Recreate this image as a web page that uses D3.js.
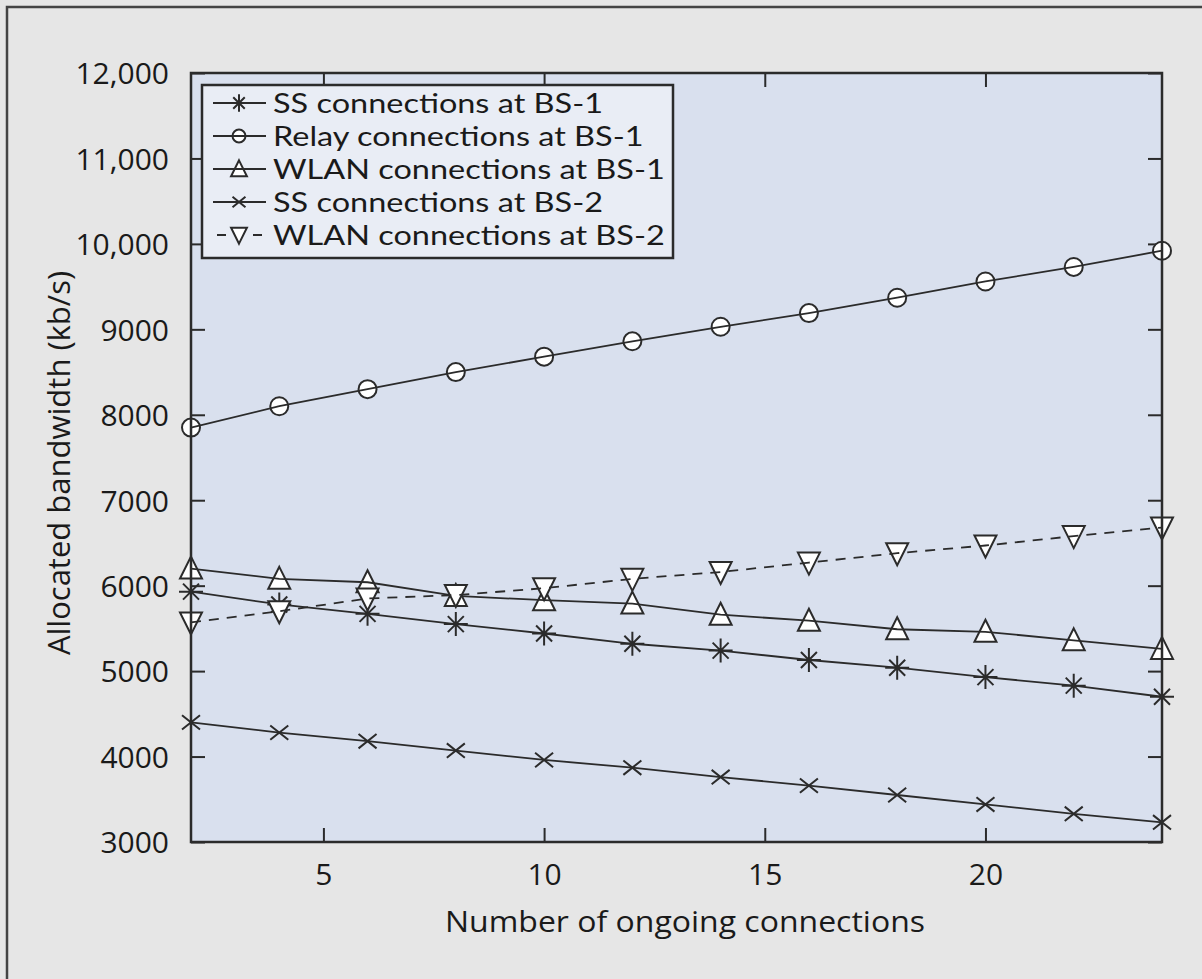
<!DOCTYPE html>
<html>
<head>
<meta charset="utf-8">
<script src="https://cdn.jsdelivr.net/npm/d3@7/dist/d3.min.js"></script>
<style>
  html, body { margin: 0; padding: 0; background: #e6e6e6; }
  svg { display: block; }
  text { font-family: "Open Sans", "Noto Sans", sans-serif; fill: #1a1a1a; }
</style>
</head>
<body>
<svg id="chart" width="1202" height="979"></svg>
<script>
// Number of ongoing connections
const connections = [2, 4, 6, 8, 10, 12, 14, 16, 18, 20, 22, 24];

// Allocated bandwidth (kb/s) per series
const ssBS1    = [5930, 5780, 5670, 5550, 5440, 5320, 5240, 5130, 5040, 4930, 4830, 4700];
const relayBS1 = [7850, 8100, 8300, 8500, 8680, 8860, 9030, 9190, 9370, 9560, 9730, 9920];
const wlanBS1  = [6200, 6080, 6040, 5880, 5830, 5790, 5660, 5590, 5490, 5460, 5360, 5260];
const ssBS2    = [4400, 4280, 4180, 4070, 3960, 3870, 3760, 3660, 3550, 3440, 3330, 3230];
const wlanBS2  = [5570, 5700, 5850, 5890, 5970, 6080, 6160, 6270, 6380, 6470, 6580, 6680];

const seriesNames = [
  "SS connections at BS-1",
  "Relay connections at BS-1",
  "WLAN connections at BS-1",
  "SS connections at BS-2",
  "WLAN connections at BS-2"
];
const seriesMarkers = ["asterisk", "circle", "triangleUp", "cross", "triangleDown"];
const seriesDashed  = [false, false, false, false, true];
const seriesValues  = [ssBS1, relayBS1, wlanBS1, ssBS2, wlanBS2];

const xTicks = [5, 10, 15, 20];
const yTicks = [3000, 4000, 5000, 6000, 7000, 8000, 9000, 10000, 11000, 12000];

const xTitle = "Number of ongoing connections";
const yTitle = "Allocated bandwidth (kb/s)";

// ---- layout ----
const W = 1202, H = 979;
const plot = { left: 191, top: 73, right: 1162, bottom: 842 };
const ink = "#2b2b2b";

const svg = d3.select("#chart");

// outer panel frame (runs off the right and bottom edges)
svg.append("rect")
  .attr("x", 0).attr("y", 0).attr("width", W).attr("height", H)
  .attr("fill", "#e6e6e6");
svg.append("path")
  .attr("d", `M7,${H + 5} L7,7 L${W + 5},7`)
  .attr("fill", "none").attr("stroke", "#444").attr("stroke-width", 2.5);

const x = d3.scaleLinear().domain([2, 24]).range([plot.left, plot.right]);
const y = d3.scaleLinear().domain([3000, 12000]).range([plot.bottom, plot.top]);

// plot background
svg.append("rect")
  .attr("x", plot.left).attr("y", plot.top)
  .attr("width", plot.right - plot.left).attr("height", plot.bottom - plot.top)
  .attr("fill", "#d9e0ee");

const fmt = v => v >= 10000 ? d3.format(",")(v) : String(v);

// axes with inward ticks on all four sides
const tickLen = 14;
const axisBottom = d3.axisBottom(x).tickValues(xTicks).tickSizeInner(-tickLen).tickSizeOuter(0).tickPadding(22).tickFormat(d3.format("d"));
const axisTop    = d3.axisTop(x).tickValues(xTicks).tickSizeInner(-tickLen).tickSizeOuter(0).tickFormat("");
const axisLeft   = d3.axisLeft(y).tickValues(yTicks).tickSizeInner(-tickLen).tickSizeOuter(0).tickPadding(22).tickFormat(fmt);
const axisRight  = d3.axisRight(y).tickValues(yTicks).tickSizeInner(-tickLen).tickSizeOuter(0).tickFormat("");

function styleAxis(g) {
  g.select(".domain").remove();
  g.selectAll(".tick line").attr("stroke", ink).attr("stroke-width", 2);
  g.selectAll(".tick text")
    .style("font-family", "'Open Sans', 'Noto Sans', sans-serif")
    .attr("font-size", 30).attr("fill", "#1a1a1a");
}
svg.append("g").attr("transform", `translate(0,${plot.bottom})`).call(axisBottom).call(styleAxis);
svg.append("g").attr("transform", `translate(0,${plot.top})`).call(axisTop).call(styleAxis);
svg.append("g").attr("transform", `translate(${plot.left},0)`).call(axisLeft).call(styleAxis)
  .selectAll(".tick text").attr("dy", "0.36em");
svg.append("g").attr("transform", `translate(${plot.right},0)`).call(axisRight).call(styleAxis);

// axis titles
svg.append("text")
  .attr("x", 685).attr("y", 932)
  .attr("text-anchor", "middle").attr("font-size", 29)
  .attr("textLength", 480).attr("lengthAdjust", "spacingAndGlyphs")
  .text(xTitle);
svg.append("text")
  .attr("transform", `translate(70,463) rotate(-90)`)
  .attr("text-anchor", "middle").attr("font-size", 31)
  .text(yTitle);

// marker shapes
function marker(g, type, cx, cy, k = 1) {
  const s = ink;
  if (type === "circle") {
    g.append("circle").attr("cx", cx).attr("cy", cy).attr("r", 9 * k)
      .attr("fill", "#fff").attr("stroke", s).attr("stroke-width", 2);
  } else if (type === "triangleUp") {
    g.append("path")
      .attr("d", `M${cx},${cy - 12 * k} L${cx + 11 * k},${cy + 10 * k} L${cx - 11 * k},${cy + 10 * k} Z`)
      .attr("fill", "#fff").attr("stroke", s).attr("stroke-width", 2);
  } else if (type === "triangleDown") {
    g.append("path")
      .attr("d", `M${cx},${cy + 12 * k} L${cx + 11 * k},${cy - 10 * k} L${cx - 11 * k},${cy - 10 * k} Z`)
      .attr("fill", "#fff").attr("stroke", s).attr("stroke-width", 2);
  } else if (type === "cross") {
    const r = 9 * k;
    g.append("path")
      .attr("d", `M${cx - r},${cy - r * 0.8} L${cx + r},${cy + r * 0.8} M${cx - r},${cy + r * 0.8} L${cx + r},${cy - r * 0.8}`)
      .attr("stroke", s).attr("stroke-width", 2).attr("fill", "none");
  } else if (type === "asterisk") {
    const r = 12 * k, d = 8 * k;
    g.append("path")
      .attr("d", `M${cx},${cy - r} L${cx},${cy + r} M${cx - d},${cy - d} L${cx + d},${cy + d} M${cx - d},${cy + d} L${cx + d},${cy - d} M${cx - r},${cy} L${cx + r},${cy}`)
      .attr("stroke", s).attr("stroke-width", 2).attr("fill", "none");
  }
}

const line = d3.line().x((d, i) => x(connections[i])).y(d => y(d));

const plotG = svg.append("g");
seriesValues.forEach((vals, k) => {
  const g = plotG.append("g");
  vals.forEach((v, i) => marker(g, seriesMarkers[k], x(connections[i]), y(v)));
  g.append("path").datum(vals)
    .attr("d", line)
    .attr("fill", "none").attr("stroke", ink).attr("stroke-width", 1.8)
    .attr("stroke-dasharray", seriesDashed[k] ? "10,8" : null);
});

// plot border
svg.append("rect")
  .attr("x", plot.left).attr("y", plot.top)
  .attr("width", plot.right - plot.left).attr("height", plot.bottom - plot.top)
  .attr("fill", "none").attr("stroke", ink).attr("stroke-width", 2.5);

// legend
const leg = { x: 202, y: 85, w: 471, h: 173, row: 33 };
const lg = svg.append("g");
lg.append("rect")
  .attr("x", leg.x).attr("y", leg.y).attr("width", leg.w).attr("height", leg.h)
  .attr("fill", "#e9edf5").attr("stroke", ink).attr("stroke-width", 2.5);
let stretch = null;
seriesNames.forEach((name, k) => {
  const cy = leg.y + 18 + k * leg.row;
  const row = lg.append("g");
  marker(row, seriesMarkers[k], 239, cy, 0.72);
  if (seriesDashed[k]) {
    row.append("path").attr("d", `M217,${cy} L226,${cy} M253,${cy} L262,${cy}`)
      .attr("stroke", ink).attr("stroke-width", 1.8);
  } else {
    row.append("path").attr("d", `M213,${cy} L266,${cy}`)
      .attr("stroke", ink).attr("stroke-width", 1.8);
  }
  const t = row.append("text").attr("x", 273).attr("y", cy).attr("dy", "0.36em")
    .style("font-family", "Lato, 'Open Sans', sans-serif")
    .style("font-size", "27px").text(name);
  // legend labels set a little wider than the face's natural width
  const len = t.node().getComputedTextLength();
  if (stretch === null) stretch = 330 / len;
  t.attr("textLength", len * stretch).attr("lengthAdjust", "spacingAndGlyphs");
});
</script>
</body>
</html>
